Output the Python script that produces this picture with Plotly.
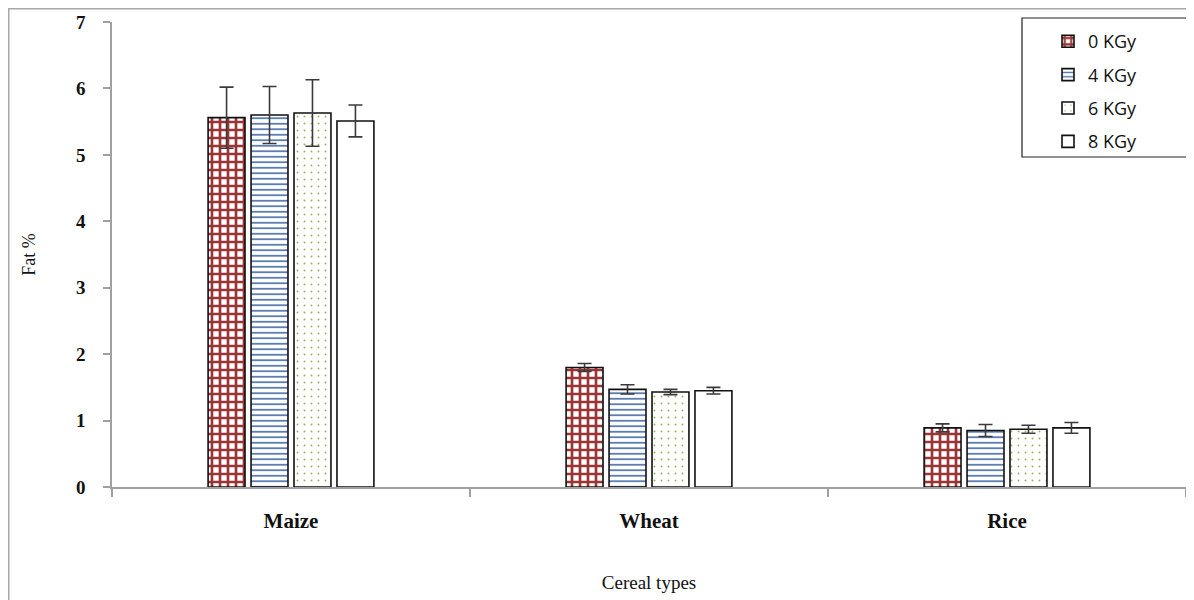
import plotly.graph_objects as go

categories = ["Maize", "Wheat", "Rice"]
series_names = ["0 KGy", "4 KGy", "6 KGy", "8 KGy"]
fat_0 = [5.56, 1.80, 0.89]
fat_4 = [5.60, 1.47, 0.85]
fat_6 = [5.63, 1.43, 0.87]
fat_8 = [5.51, 1.45, 0.89]
err_0 = [0.46, 0.06, 0.06]
err_4 = [0.43, 0.07, 0.09]
err_6 = [0.50, 0.04, 0.06]
err_8 = [0.24, 0.05, 0.08]
y_ticks = [0, 1, 2, 3, 4, 5, 6, 7]

values = [fat_0, fat_4, fat_6, fat_8]
errors = [err_0, err_4, err_6, err_8]
patterns = [
    dict(shape="+", fgcolor="#9B3535", bgcolor="white", size=8, solidity=0.55, fillmode="replace"),
    dict(shape="-", fgcolor="#4A6FA8", bgcolor="white", size=5.5, solidity=0.3, fillmode="replace"),
    dict(shape=".", fgcolor="#9BB060", bgcolor="white", size=7, solidity=0.06, fillmode="replace"),
    dict(shape="", fgcolor="white", bgcolor="white"),
]

fig = go.Figure()
for name, vals, errs, pat in zip(series_names, values, errors, patterns):
    fig.add_trace(go.Bar(
        name=name, x=categories, y=vals, legendgroup=name,
        marker=dict(color="white", line=dict(color="#111111", width=1.6), pattern=pat),
        error_y=dict(type="data", array=errs, visible=True, color="#3a3a3a", thickness=1.6, width=7),
    ))

# figure is drawn inside the page body (8px offset), so sizes compensate
W, H = 1186, 592
ML, MR, MT, MB = 104, 8, 14, 113
PW = W - ML - MR
PH = H - MT - MB
def px_x(x):
    return (x - ML) / PW
def px_y(y):
    return (MT + PH - y) / PH

serif = "Liberation Serif"
fig.update_layout(
    width=W, height=H,
    paper_bgcolor="white", plot_bgcolor="white",
    margin=dict(l=ML, r=MR, t=MT, b=MB, autoexpand=False),
    barmode="group", bargap=0.52, bargroupgap=0.14,
    showlegend=True,
    legend=dict(
        x=px_x(1040), y=px_y(15), xanchor="left", yanchor="top",
        bgcolor="rgba(0,0,0,0)", borderwidth=0,
        font=dict(family="Open Sans", size=18, color="#111111"),
        tracegroupgap=7, itemwidth=30,
    ),
    xaxis=dict(
        showline=True, linecolor="#a0a0a0", linewidth=1.5,
        ticks="outside", tickson="boundaries", ticklen=8, tickcolor="#a0a0a0", tickwidth=1.5,
        tickfont=dict(family=serif, size=21, color="#111111", weight="bold"),
        ticklabelstandoff=14,
        title=dict(text="Cereal types", font=dict(family=serif, size=19, color="#111111"), standoff=44),
        showgrid=False,
    ),
    yaxis=dict(
        range=[0, 7], tickvals=y_ticks,
        showline=True, linecolor="#a0a0a0", linewidth=1.5,
        ticks="outside", ticklen=7, tickcolor="#a0a0a0", tickwidth=1.5,
        tickfont=dict(family=serif, size=19, color="#111111", weight="bold"),
        ticklabelstandoff=14,
        title=dict(text="Fat %", font=dict(family=serif, size=18, color="#111111"), standoff=36),
        showgrid=False, zeroline=False,
    ),
    shapes=[
        dict(type="rect", xref="paper", yref="paper",
             x0=px_x(0.75), x1=px_x(1300), y0=px_y(700), y1=px_y(0.75),
             line=dict(color="#a8a8a8", width=1.5), fillcolor="rgba(0,0,0,0)", layer="below"),
        dict(type="rect", xref="paper", yref="paper",
             x0=px_x(1014), x1=px_x(1180), y0=px_y(149), y1=px_y(10),
             line=dict(color="#222222", width=1.2), fillcolor="white", layer="above"),
    ],
)

fig.write_html("out.html")
